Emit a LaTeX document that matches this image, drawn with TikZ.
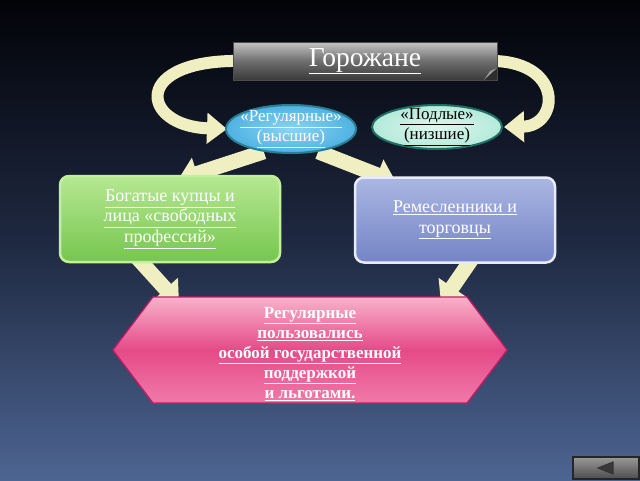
\documentclass[tikz,border=0pt]{standalone}
\usepackage{fontspec}
\setmainfont{Liberation Serif}
\usetikzlibrary{shapes.geometric,arrows.meta}
\pgfdeclarelayer{bglayer}
\pgfdeclarelayer{arrlayer}
\pgfsetlayers{bglayer,arrlayer,main}
\definecolor{bgtop}{HTML}{020308}
\definecolor{bgmid}{HTML}{1E2840}
\definecolor{bgbot}{HTML}{4D6592}
\definecolor{arr}{HTML}{EFEFC2}
\definecolor{ttop}{HTML}{C4C4C4}
\definecolor{tmid}{HTML}{6E6E6E}
\definecolor{tbot}{HTML}{3A3A3A}
\definecolor{regfill}{HTML}{4FB2E2}
\definecolor{regtop}{HTML}{8AD4F2}
\definecolor{regdraw}{HTML}{2B7F94}
\definecolor{podfill}{HTML}{B4EADA}
\definecolor{podtop}{HTML}{DDF7EE}
\definecolor{poddraw}{HTML}{1F6E62}
\definecolor{grtop}{HTML}{B6E892}
\definecolor{grbot}{HTML}{76C64E}
\definecolor{grdraw}{HTML}{C2F09A}
\definecolor{bltop}{HTML}{AAB6E2}
\definecolor{blbot}{HTML}{7484C6}
\definecolor{bldraw}{HTML}{E8ECFA}
\definecolor{hxtop}{HTML}{F7B2CA}
\definecolor{hxmid}{HTML}{E54A88}
\definecolor{hxbot}{HTML}{F07AA8}
\definecolor{hxdraw}{HTML}{C81A66}
\begin{document}
\begin{tikzpicture}[x=1pt,y=-1pt,
  blk/.style={arr, line width=15pt, -{Triangle[width=32pt,length=20pt]}},
  blkc/.style={arr, line width=12pt, -{Triangle[width=30pt,length=20pt]}},
  titlebox/.style={rectangle, minimum width=264pt, minimum height=38pt, inner sep=0pt,
    top color=ttop, bottom color=tbot, middle color=tmid, draw=gray!60!black, line width=0.6pt,
    text=white, font=\fontsize{27.5}{29}\selectfont},
  ell/.style={ellipse, inner xsep=-7pt, inner ysep=-4pt, line width=2pt, align=center,
    font=\fontsize{17}{19}\selectfont},
  rbox/.style={rectangle, rounded corners=9pt, inner sep=0pt, line width=2.5pt, align=center,
    font=\fontsize{18}{20.5}\selectfont, text=white},
  hexfill/.style={top color=hxtop, bottom color=hxbot, middle color=hxmid, draw=hxdraw, line width=1.2pt},
  btnbox/.style={rectangle, minimum width=66pt, minimum height=22pt, inner sep=0pt,
    top color=gray!80, bottom color=gray!60!black, draw=black!85, line width=1.5pt}
]
\useasboundingbox (0,0) rectangle (640,480);
\begin{pgfonlayer}{bglayer}
\shade[top color=bgtop, bottom color=bgbot, middle color=bgmid] (0,0) rectangle (640,480);
\end{pgfonlayer}

% title with folded corner
\node[titlebox] (title) at (365,61) {\underline{Горожане}};
\fill[gray!35!black] (484,80) -- (497,68) -- (497,80) -- cycle;
\fill[gray!80] (484,80) -- (497,68) -- (490,71) -- cycle;

% ellipses
\node[ell, minimum width=130pt, minimum height=48pt, draw=regdraw, inner color=regtop, outer color=regfill, text=white]
  (reg) at (291,129) {\underline{«Регулярные»}\\[1pt]\underline{(высшие)}};
\node[ell, minimum width=130pt, minimum height=44pt, draw=poddraw, inner color=podtop, outer color=podfill, text=black]
  (podl) at (437,127) {\underline{«Подлые»}\\[1pt]\underline{(низшие)}};

% boxes
\node[rbox, minimum width=220pt, minimum height=86pt, draw=grdraw, top color=grtop, bottom color=grbot]
  (green) at (170,219) {\underline{Богатые купцы и}\\\underline{лица «свободных}\\\underline{профессий»}};
\node[rbox, minimum width=200pt, minimum height=85pt, draw=bldraw, top color=bltop, bottom color=blbot]
  (blue) at (455,220) {\underline{Ремесленники и}\\\underline{торговцы}};

% hexagon
\shadedraw[hexfill] (113,350) -- (153,297) -- (467,297) -- (507,350) -- (467,403) -- (153,403) -- cycle;
\node[align=center, text=white, font=\bfseries\fontsize{17}{20}\selectfont] (hex) at (310,354)
  {\underline{Регулярные}\\\underline{пользовались}\\\underline{особой государственной}\\\underline{поддержкой}\\\underline{и льготами.}};

% connectors behind the shapes
\begin{pgfonlayer}{arrlayer}
\draw[blkc] ([xshift=12pt]title.west) .. controls (130,58) and (140,126) .. ([xshift=2pt]reg.west);
\draw[blkc] ([xshift=-12pt]title.east) .. controls (565,58) and (560,126) .. ([xshift=1pt]podl.east);
\draw[blk] (reg.220) -- ([xshift=8pt,yshift=-5pt]green.north);
\draw[blk] (reg.320) -- ([xshift=-59pt,yshift=-6pt]blue.north);
\draw[blk] ([xshift=-35pt,yshift=8pt]green.south) -- ([xshift=-131pt,yshift=0pt]hex.north);
\draw[blk] ([xshift=19pt,yshift=8pt]blue.south) -- ([xshift=131pt,yshift=0pt]hex.north);
\end{pgfonlayer}

% navigation button
\node[btnbox] (btn) at (606,468) {};
\filldraw[fill=gray!45!black, draw=black!80, line width=1pt] (598,468) -- (613,462) -- (613,474) -- cycle;
\end{tikzpicture}
\end{document}
